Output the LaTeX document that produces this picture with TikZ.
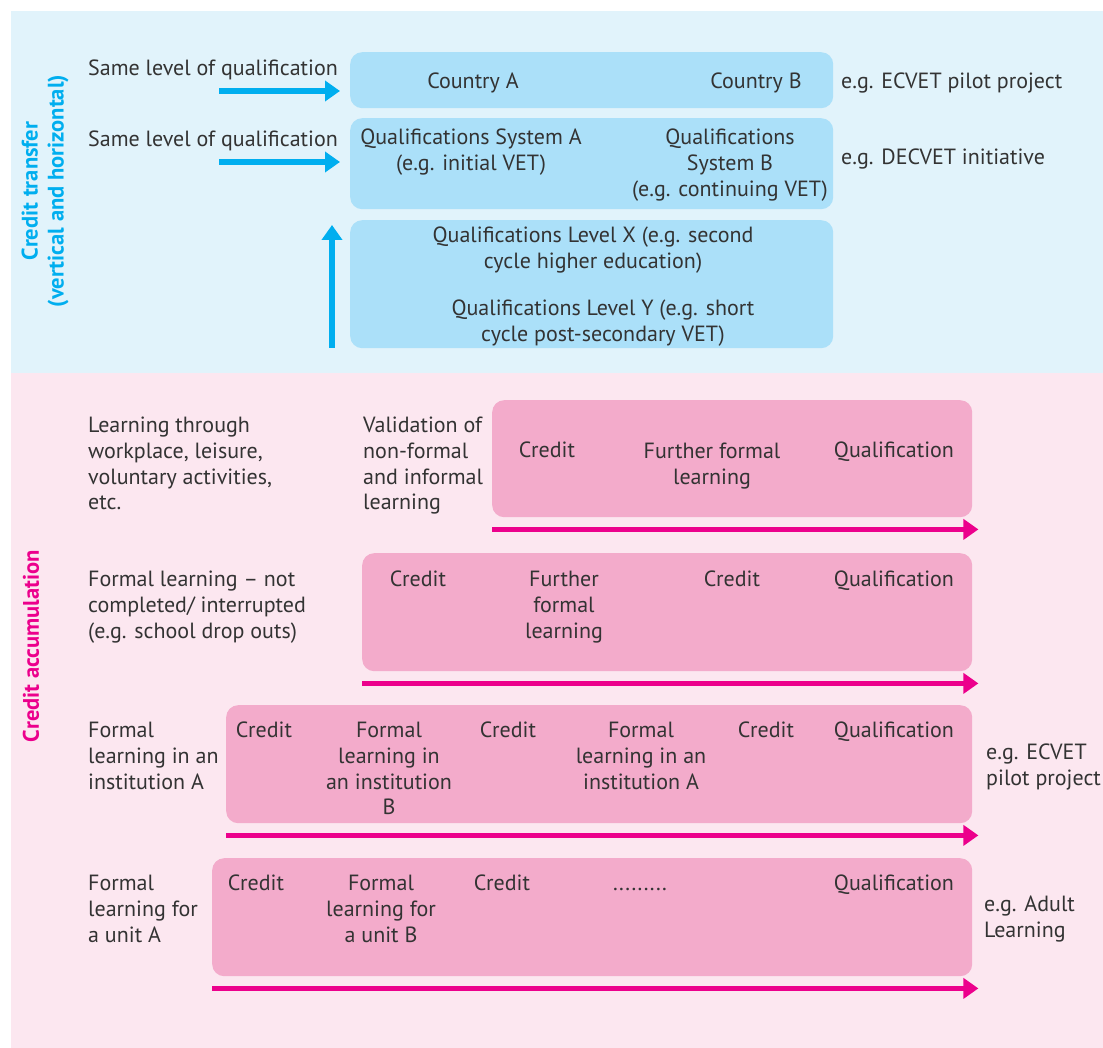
\documentclass[tikz,border=0pt]{standalone}
\usepackage{fontspec}
\setmainfont{PT Sans}
\usetikzlibrary{arrows.meta}

\definecolor{hellblau}{HTML}{E1F3FB}
\definecolor{kastenblau}{HTML}{ABE0F9}
\definecolor{blau}{HTML}{00AEEF}
\definecolor{hellrosa}{HTML}{FCE7F0}
\definecolor{kastenrosa}{HTML}{F3ABCB}
\definecolor{rosa}{HTML}{EC008C}
\definecolor{schriftgrau}{HTML}{333333}

\begin{document}
\begin{tikzpicture}[x=1pt,y=-1pt,
	schrift/.style={font=\fontsize{22}{25.7}\selectfont, text=schriftgrau,
		inner sep=0pt, align=center, anchor=north, execute at begin node=\strut},
	links/.style={schrift, align=left, anchor=north west},
	kasten/.style={anchor=north west, rounded corners=12pt, inner sep=0pt},
	blaukasten/.style={kasten, fill=kastenblau},
	rosakasten/.style={kasten, fill=kastenrosa},
	pfeilb/.style={draw=blau, line width=5.5pt, -{Triangle[width=20pt,length=15pt]}},
	pfeilr/.style={draw=rosa, line width=5pt, -{Triangle[width=20pt,length=15pt]}},
	seite/.style={font=\fontsize{22.5}{26}\selectfont\bfseries, rotate=90, align=center, inner sep=0pt}]

	\useasboundingbox (0,0) rectangle (1103,1048);
	\fill[hellblau] (11,11) rectangle (1103,373);
	\fill[hellrosa] (11,373) rectangle (1103,1048);

	\node[seite, text=blau] (transfer) at (45,191) {Credit transfer\\(vertical and horizontal)};
	\node[seite, text=rosa] (akku) at (31,646) {Credit accumulation};

	% Credit transfer
	\node[blaukasten, minimum width=483pt, minimum height=56pt] (land) at (350,52) {};
	\node[blaukasten, minimum width=483pt, minimum height=91pt] (system) at (350,118) {};
	\node[blaukasten, minimum width=483pt, minimum height=128pt] (stufe) at (350,220) {};

	\node[links] (gleich1) at (88,57) {Same level of qualification};
	\node[links] (gleich2) at (88,128) {Same level of qualification};
	\coordinate (p1) at (219,91);
	\coordinate (p2) at (219,162);
	\coordinate (p3) at (332,348);
	\draw[pfeilb, shorten >=10pt] (p1) -- (p1 -| land.west);
	\draw[pfeilb, shorten >=10pt] (p2) -- (p2 -| system.west);
	\draw[pfeilb, shorten >=5pt] (p3) -- (p3 |- stufe.north);

	\node[schrift] (landA) at (473,70) {Country A};
	\node[schrift] (landB) at (756,70) {Country B};
	\node[schrift] (sysA) at (471,129) {Qualifications System A\\(e.g. initial VET)};
	\node[schrift] (sysB) at (730,129) {Qualifications\\System B\\(e.g. continuing VET)};
	\node[schrift] (stufeX) at (593,227) {Qualifications Level X (e.g. second\\cycle higher education)};
	\node[schrift] (stufeY) at (603,300) {Qualifications Level Y (e.g. short\\cycle post-secondary VET)};

	\node[links] (bsp1) at (841,70) {e.g. ECVET pilot project};
	\node[links] (bsp2) at (841,146) {e.g. DECVET initiative};

	% Credit accumulation
	\def\pfeil#1{
		\draw[pfeilr] ([yshift=-12pt]#1.south west) -- ([yshift=-12pt,xshift=6pt]#1.south east);
	}

	\node[rosakasten, minimum width=480pt, minimum height=117pt] (reihe1) at (492,400) {};
	\node[rosakasten, minimum width=610pt, minimum height=118pt] (reihe2) at (362,553) {};
	\node[rosakasten, minimum width=746pt, minimum height=118pt] (reihe3) at (226,705) {};
	\node[rosakasten, minimum width=760pt, minimum height=118pt] (reihe4) at (212,858) {};
	\pfeil{reihe1}
	\pfeil{reihe2}
	\pfeil{reihe3}
	\pfeil{reihe4}

	\node[links] (lern1) at (88,417) {Learning through\\workplace, leisure,\\voluntary activities,\\etc.};
	\node[links] (valid) at (363,417) {Validation of\\non-formal\\and informal\\learning};
	\node[schrift] (k11) at (547,439) {Credit};
	\node[schrift] (k12) at (712,443) {Further formal\\learning};
	\node[schrift] (k13) at (894,439) {Qualification};

	\node[links] (lern2) at (88,571) {Formal learning – not\\completed/ interrupted\\(e.g. school drop outs)};
	\node[schrift] (k21) at (418,568) {Credit};
	\node[schrift] (k22) at (564,571) {Further\\formal\\learning};
	\node[schrift] (k23) at (732,568) {Credit};
	\node[schrift] (k24) at (894,568) {Qualification};

	\node[links] (lern3) at (88,722) {Formal\\learning in an\\institution A};
	\node[schrift] (k31) at (264,719) {Credit};
	\node[schrift] (k32) at (389,722) {Formal\\learning in\\an institution\\B};
	\node[schrift] (k33) at (508,719) {Credit};
	\node[schrift] (k34) at (641,722) {Formal\\learning in an\\institution A};
	\node[schrift] (k35) at (766,719) {Credit};
	\node[schrift] (k36) at (894,719) {Qualification};
	\node[links] (bsp3) at (986,744) {e.g. ECVET\\pilot project};

	\node[links] (lern4) at (88,875) {Formal\\learning for\\a unit A};
	\node[schrift] (k41) at (256,872) {Credit};
	\node[schrift] (k42) at (381,875) {Formal\\learning for\\a unit B};
	\node[schrift] (k43) at (502,872) {Credit};
	\node[schrift] (k44) at (640,872) {.........};
	\node[schrift] (k45) at (894,872) {Qualification};
	\node[links] (bsp4) at (984,896) {e.g. Adult\\Learning};
\end{tikzpicture}
\end{document}
